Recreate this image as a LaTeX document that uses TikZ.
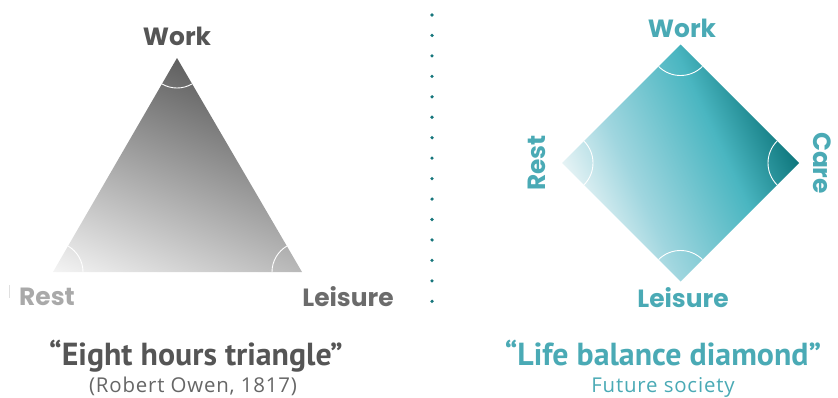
\documentclass[tikz,border=0pt]{standalone}
\usepackage{fontspec}
\setmainfont{Poppins}
\newfontfamily\titlefont{PT Sans}
\newfontfamily\subfont{Open Sans}[LetterSpace=4]

\definecolor{inkgray}{HTML}{555555}
\definecolor{restgray}{HTML}{A9A9A9}
\definecolor{leisgray}{HTML}{6B6B6B}
\definecolor{subgray}{HTML}{666666}
\definecolor{lbteal}{HTML}{4AAAB5}
\definecolor{dotteal}{HTML}{17767C}
\definecolor{trilight}{HTML}{F4F4F4}
\definecolor{tridark}{HTML}{5F5F5F}
\definecolor{diaA}{HTML}{E6F3F5}
\definecolor{diaB}{HTML}{A0D6DF}
\definecolor{diaC}{HTML}{4AB6C1}
\definecolor{diaD}{HTML}{2A949C}
\definecolor{diaE}{HTML}{0F777D}

% gradients run left to right, the middle 50bp is what a path shows
\pgfdeclarehorizontalshading{eightshade}{100bp}{color(0bp)=(trilight); color(25bp)=(trilight); color(75bp)=(tridark); color(100bp)=(tridark)}
\pgfdeclarehorizontalshading{lifeshade}{100bp}{color(0bp)=(diaA); color(25bp)=(diaA); color(38.4bp)=(diaB); color(60bp)=(diaC); color(68bp)=(diaD); color(75bp)=(diaE); color(100bp)=(diaE)}

\begin{document}
\begin{tikzpicture}[
    x=1bp, y=1bp,
    cornerarc/.style={draw=white, line width=0.9bp},
    vertexlabel/.style={font=\bfseries\fontsize{25}{25}\selectfont, inner sep=0pt},
    headline/.style={font=\titlefont\bfseries\fontsize{32}{32}\selectfont, inner sep=0pt, anchor=base},
    subline/.style={font=\subfont\fontsize{20.5}{20.5}\selectfont, inner sep=0pt, anchor=base}
]
    \useasboundingbox (0,0) rectangle (838,397);

    % eight hours triangle
    \coordinate (work) at (177,339);
    \coordinate (rest) at (53,125);
    \coordinate (leisure) at (302,125);
    \begin{scope}
        \clip (work) -- (rest) -- (leisure) -- cycle;
        \begin{scope}[transform canvas={rotate around={67:(rest)}}]
            \shade[shading=eightshade] (53,-125) rectangle (298.4,375);
        \end{scope}
    \end{scope}
    \draw[cornerarc] (work) ++(240:30) arc[start angle=240, end angle=300, radius=30];
    \draw[cornerarc] (rest) ++(0:30) arc[start angle=0, end angle=60, radius=30];
    \draw[cornerarc] (leisure) ++(120:30) arc[start angle=120, end angle=180, radius=30];

    \node[vertexlabel, text=inkgray] (worklabel) at (177,361) {Work};
    \node[vertexlabel, text=restgray] (restlabel) at (47,100) {Rest};
    \node[vertexlabel, text=leisgray] (leisurelabel) at (348,100) {Leisure};
    \draw[black!12, line width=1bp] (9,99) -- (9,112);

    % dotted divider
    \foreach \k in {0,...,14}
        \fill[dotteal] (432,{382-20.45*\k}) circle (1.8);

    % life balance diamond
    \coordinate (dwork) at (680.5,352.5);
    \coordinate (drest) at (562,234);
    \coordinate (dcare) at (799,234);
    \coordinate (dleisure) at (680.5,115.5);
    \begin{scope}
        \clip (dwork) -- (drest) -- (dleisure) -- (dcare) -- cycle;
        \begin{scope}[transform canvas={rotate around={25:(680.5,234)}}]
            \shade[shading=lifeshade] (573.1,84) rectangle (787.9,384);
        \end{scope}
    \end{scope}
    \draw[cornerarc] (dwork) ++(225:31) arc[start angle=225, end angle=315, radius=31];
    \draw[cornerarc] (drest) ++(-45:31) arc[start angle=-45, end angle=45, radius=31];
    \draw[cornerarc] (dcare) ++(135:31) arc[start angle=135, end angle=225, radius=31];
    \draw[cornerarc] (dleisure) ++(45:31) arc[start angle=45, end angle=135, radius=31];

    \node[vertexlabel, text=lbteal] (dworklabel) at (682,369) {Work};
    \node[vertexlabel, text=lbteal] (dleisurelabel) at (683,99) {Leisure};
    \node[vertexlabel, text=lbteal, rotate=90] (drestlabel) at (537,234) {Rest};
    \node[vertexlabel, text=lbteal, rotate=-90] (dcarelabel) at (822,234) {Care};

    % captions
    \node[headline, text=inkgray] (eighttitle) at (196,32) {“Eight hours triangle”};
    \node[subline, text=subgray] (eightsub) at (193,5) {(Robert Owen, 1817)};
    \node[headline, text=lbteal] (lifetitle) at (663,32) {“Life balance diamond”};
    \node[subline, text=lbteal] (lifesub) at (663,5) {Future society};
\end{tikzpicture}
\end{document}
